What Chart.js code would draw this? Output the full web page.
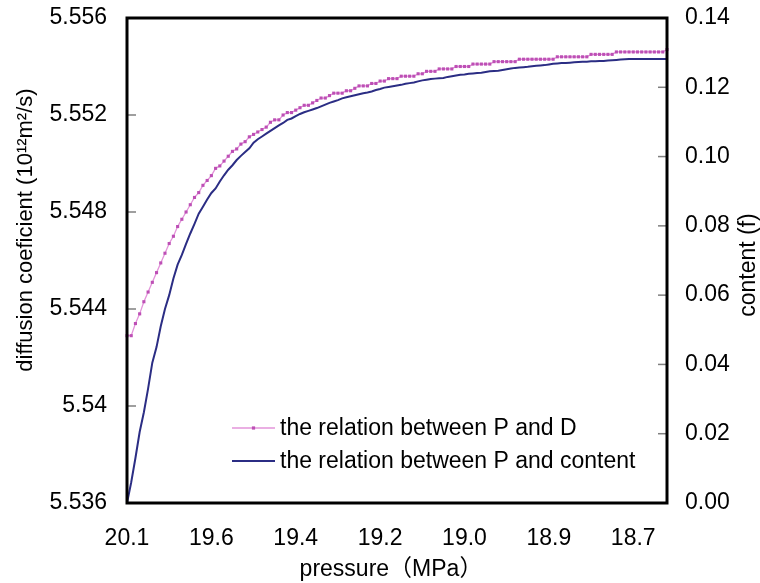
<!DOCTYPE html>
<html>
<head>
<meta charset="utf-8">
<script src="https://cdn.jsdelivr.net/npm/chart.js@4.4.0/dist/chart.umd.min.js"></script>
<style>
  html, body { margin: 0; padding: 0; background: #fff; }
</style>
</head>
<body>
<canvas id="pdChart" width="760" height="583"></canvas>
<script>
// pressure labels, one every 20 samples
const pressureTicks = ['20.1', '19.6', '19.4', '19.2', '19.0', '18.9', '18.7'];
const tickEvery = 20;

// diffusion coefficient (left axis)
const diffusion = [
  5.5429, 5.5429, 5.5434, 5.5438, 5.5443, 5.5447, 5.5451, 5.5455, 5.5459, 5.5463,
  5.5467, 5.5470, 5.5474, 5.5477, 5.5480, 5.5483, 5.5486, 5.5488, 5.5491, 5.5493,
  5.5495, 5.5498, 5.5499, 5.5501, 5.5503, 5.5505, 5.5506, 5.5508, 5.5509, 5.5511,
  5.5512, 5.5513, 5.5514, 5.5515, 5.5517, 5.5518, 5.5518, 5.5520, 5.5521, 5.5521,
  5.5522, 5.5523, 5.5524, 5.5524, 5.5525, 5.5526, 5.5527, 5.5527, 5.5528, 5.5529,
  5.5529, 5.5529, 5.5530, 5.5530, 5.5531, 5.5532, 5.5532, 5.5532, 5.5533, 5.5533,
  5.5534, 5.5534, 5.5535, 5.5535, 5.5535, 5.5536, 5.5536, 5.5536, 5.5536, 5.5537,
  5.5537, 5.5538, 5.5538, 5.5538, 5.5539, 5.5539, 5.5539, 5.5539, 5.5540, 5.5540,
  5.5540, 5.5540, 5.5541, 5.5541, 5.5541, 5.5541, 5.5541, 5.5542, 5.5542, 5.5542,
  5.5542, 5.5542, 5.5542, 5.5543, 5.5543, 5.5543, 5.5543, 5.5543, 5.5543, 5.5543,
  5.5543, 5.5543, 5.5544, 5.5544, 5.5544, 5.5544, 5.5544, 5.5544, 5.5544, 5.5544,
  5.5545, 5.5545, 5.5545, 5.5545, 5.5545, 5.5545, 5.5546, 5.5546, 5.5546, 5.5546,
  5.5546, 5.5546, 5.5546, 5.5546, 5.5546, 5.5546, 5.5546, 5.5546, 5.5547
];

// content f (right axis)
const content = [
  0.0000, 0.0060, 0.0130, 0.0205, 0.0262, 0.0330, 0.0405, 0.0450, 0.0510, 0.0560,
  0.0600, 0.0648, 0.0688, 0.0716, 0.0748, 0.0778, 0.0806, 0.0835, 0.0855, 0.0876,
  0.0895, 0.0908, 0.0928, 0.0946, 0.0962, 0.0975, 0.0990, 0.1002, 0.1013, 0.1024,
  0.1040, 0.1050, 0.1058, 0.1066, 0.1074, 0.1082, 0.1090, 0.1097, 0.1106, 0.1110,
  0.1117, 0.1123, 0.1128, 0.1132, 0.1136, 0.1140, 0.1145, 0.1150, 0.1155, 0.1159,
  0.1163, 0.1168, 0.1171, 0.1174, 0.1177, 0.1180, 0.1183, 0.1185, 0.1188, 0.1192,
  0.1195, 0.1199, 0.1201, 0.1203, 0.1205, 0.1207, 0.1210, 0.1212, 0.1214, 0.1217,
  0.1220, 0.1222, 0.1224, 0.1225, 0.1226, 0.1227, 0.1230, 0.1232, 0.1234, 0.1236,
  0.1237, 0.1239, 0.1240, 0.1241, 0.1242, 0.1244, 0.1246, 0.1247, 0.1248, 0.1250,
  0.1252, 0.1254, 0.1256, 0.1257, 0.1258, 0.1259, 0.1261, 0.1262, 0.1263, 0.1264,
  0.1266, 0.1268, 0.1269, 0.1270, 0.1270, 0.1271, 0.1272, 0.1273, 0.1274, 0.1274,
  0.1275, 0.1275, 0.1276, 0.1276, 0.1277, 0.1278, 0.1279, 0.1280, 0.1281, 0.1282,
  0.1282, 0.1282, 0.1282, 0.1282, 0.1282, 0.1282, 0.1282, 0.1282, 0.1282
];

const labels = diffusion.map((_, i) => i % tickEvery === 0 ? pressureTicks[i / tickEvery] : '');

const FONT = "'Liberation Sans', Arial, 'Noto Sans CJK SC', sans-serif";
Chart.defaults.font.family = FONT;
Chart.defaults.font.size = 23;
Chart.defaults.color = '#000';

// invisible outside ticks just to push the labels away from the frame
const spacerGrid = len => ({
  display: true,
  drawOnChartArea: false,
  drawTicks: true,
  tickLength: len,
  color: 'rgba(0,0,0,0)'
});

// frame, inside tick marks, axis titles and legend
const decorations = {
  id: 'decorations',
  afterDatasetsDraw(chart) {
    const { ctx, chartArea: a, scales } = chart;
    ctx.save();

    ctx.strokeStyle = '#7f7f7f';
    ctx.lineWidth = 1.5;
    scales.y.ticks.forEach(t => {
      const y = scales.y.getPixelForValue(t.value);
      ctx.beginPath(); ctx.moveTo(a.left, y); ctx.lineTo(a.left + 9, y); ctx.stroke();
    });
    scales.y1.ticks.forEach(t => {
      const y = scales.y1.getPixelForValue(t.value);
      ctx.beginPath(); ctx.moveTo(a.right - 9, y); ctx.lineTo(a.right, y); ctx.stroke();
    });

    ctx.strokeStyle = '#000';
    ctx.lineWidth = 3;
    ctx.strokeRect(a.left, a.top, a.right - a.left, a.bottom - a.top);

    ctx.fillStyle = '#000';
    ctx.textAlign = 'center';
    ctx.textBaseline = 'middle';

    ctx.font = '23px ' + FONT;
    ctx.fillText('pressure（MPa）', 391, 570);

    ctx.save();
    ctx.translate(26, 230);
    ctx.rotate(-Math.PI / 2);
    ctx.font = '22px ' + FONT;
    ctx.fillText('diffusion coeficient (10¹²m²/s)', 0, 0);
    ctx.restore();

    ctx.save();
    ctx.translate(749, 265);
    ctx.rotate(-Math.PI / 2);
    ctx.font = '23px ' + FONT;
    ctx.fillText('content (f)', 0, 0);
    ctx.restore();

    // legend
    ctx.textAlign = 'left';
    ctx.font = '23px ' + FONT;
    const rows = [428, 461];
    chart.data.datasets.forEach((ds, i) => {
      const y = rows[i];
      ctx.strokeStyle = ds.borderColor;
      ctx.lineWidth = ds.borderWidth;
      ctx.beginPath(); ctx.moveTo(232, y); ctx.lineTo(275, y); ctx.stroke();
      if (ds.pointRadius > 0) {
        ctx.fillStyle = ds.pointBackgroundColor;
        ctx.fillRect(253.5 - 1.6, y - 1.6, 3.2, 3.2);
      }
      ctx.fillStyle = '#000';
      ctx.fillText(ds.label, 280, y + 1);
    });

    ctx.restore();
  }
};

new Chart(document.querySelector('#pdChart'), {
  type: 'line',
  data: {
    labels: labels,
    datasets: [
      {
        label: 'the relation between P and D',
        data: diffusion,
        yAxisID: 'y',
        borderColor: '#e394da',
        borderWidth: 1.3,
        pointStyle: 'rect',
        pointRadius: 2.2,
        pointBorderWidth: 0,
        pointBackgroundColor: '#bd4fb5',
        tension: 0
      },
      {
        label: 'the relation between P and content',
        data: content,
        yAxisID: 'y1',
        borderColor: '#2b2d84',
        borderWidth: 2,
        pointRadius: 0,
        tension: 0
      }
    ]
  },
  options: {
    responsive: false,
    animation: false,
    layout: { padding: { top: 18, left: 0, right: 0, bottom: 0 } },
    plugins: { legend: { display: false }, tooltip: { enabled: false } },
    scales: {
      x: {
        type: 'category',
        offset: false,
        grid: { display: false, drawTicks: false },
        border: { display: false },
        ticks: { autoSkip: false, maxRotation: 0, padding: 22 },
        afterFit: s => { s.height = 80; }
      },
      y: {
        position: 'left',
        min: 5.536,
        max: 5.556,
        grid: spacerGrid(18),
        border: { display: false },
        ticks: {
          stepSize: 0.004,
          padding: 2,
          callback: v => String(+v.toFixed(3))
        },
        afterFit: s => { s.width = 127; }
      },
      y1: {
        position: 'right',
        min: 0,
        max: 0.14,
        grid: spacerGrid(16),
        border: { display: false },
        ticks: {
          stepSize: 0.02,
          padding: 2,
          callback: v => v.toFixed(2)
        },
        afterFit: s => { s.width = 93; }
      }
    }
  },
  plugins: [decorations]
});
</script>
</body>
</html>
